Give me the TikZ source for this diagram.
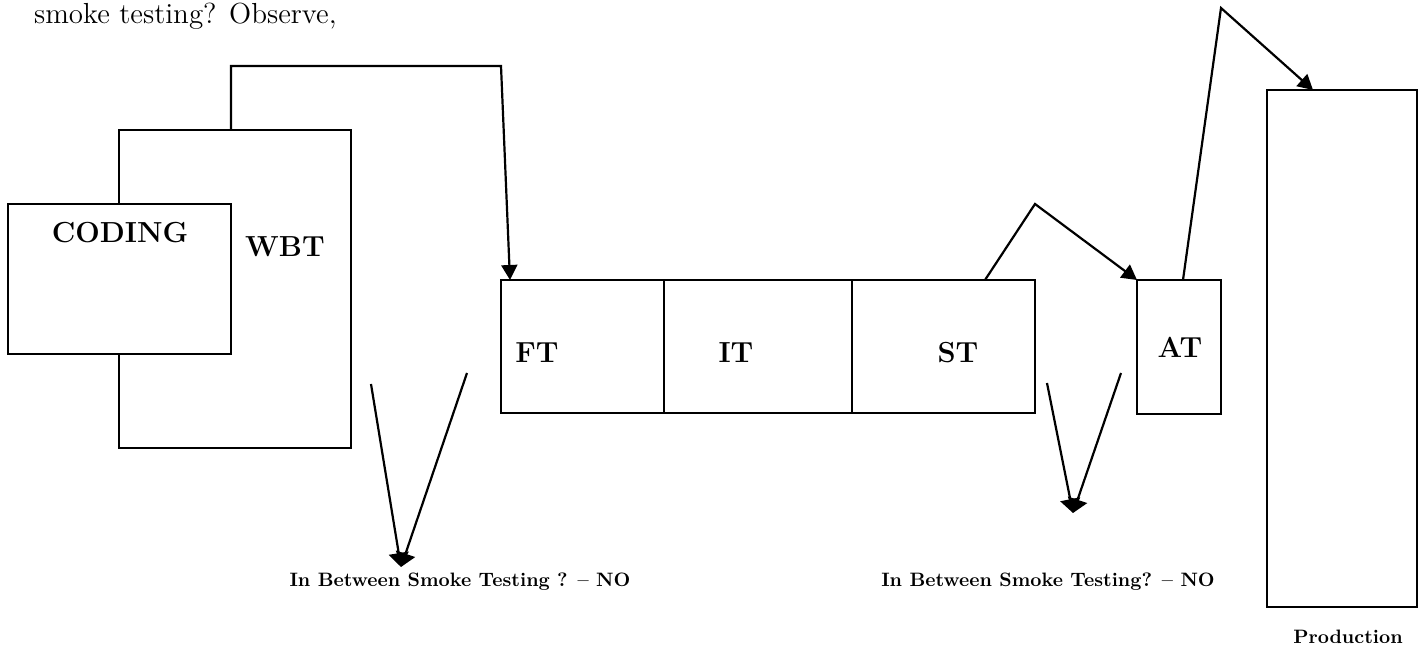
\documentclass[tikz,border=0pt]{standalone}
\usetikzlibrary{arrows.meta,calc}
\begin{document}
\begin{tikzpicture}[x=0.5pt,y=-0.5pt, line width=1.1pt,
  box/.style={draw, line width=1.1pt, inner sep=0pt, outer sep=0pt, anchor=north west},
  lbl/.style={font=\fontsize{14.5}{17}\selectfont\bfseries, inner sep=0pt},
  small/.style={font=\fontsize{9.7}{12}\selectfont\bfseries, inner sep=0pt},
  arr/.style={-{Triangle[width=8pt,length=7.5pt]}},
  varr/.style={-{Triangle[width=10pt,length=7pt]}}]
\useasboundingbox (0,0) rectangle (1421,646);

% top text
\node[anchor=base west, inner sep=0pt, font=\fontsize{14.5}{17}\selectfont] (intro) at (33,24) {smoke testing? Observe,};

% boxes
\node[box, minimum width=116pt, minimum height=159pt] (wbt) at (119,130) {};
\node[box, fill=white, minimum width=111.5pt, minimum height=75pt] (coding) at (8,204) {};
\node[box, minimum width=81.5pt, minimum height=66.5pt] (ft) at (501,280) {};
\node[box, minimum width=94pt, minimum height=66.5pt] (it) at (664,280) {};
\node[box, minimum width=91.5pt, minimum height=66.5pt] (st) at (852,280) {};
\node[box, minimum width=42pt, minimum height=67pt] (at) at (1137,280) {};
\node[box, minimum width=75pt, minimum height=258.5pt] (prod) at (1267,90) {};

% box labels
\node[lbl] (codingl) at (120,233) {CODING};
\node[lbl] (wbtl) at (285,247) {WBT};
\node[lbl] (ftl) at (537,353) {FT};
\node[lbl] (itl) at (736,353) {IT};
\node[lbl] (stl) at (958,353) {ST};
\node[lbl] (atl) at (1180,347) {AT};

% connectors
\coordinate (c2) at (501,66);
\draw[arr] ([xshift=56pt]wbt.north west) |- (c2) -- ([xshift=4.5pt]ft.north west);
\coordinate (p1) at (1035,204);
\draw[arr] ([xshift=-25pt]st.north east) -- (p1) -- (at.north west);
\coordinate (p2) at (1221,8);
\draw[arr] ([xshift=2pt]at.north) -- (p2) -- ([xshift=23pt]prod.north west);

% V arrows
\coordinate (v1a) at (371,384);
\coordinate (v1b) at (467,373);
\coordinate (t1) at (401,567);
\draw[varr] (v1a) -- (t1);
\draw[varr] (v1b) -- (t1);
\coordinate (v2a) at (1047,383);
\coordinate (v2b) at (1121,373);
\coordinate (t2) at (1073,513);
\draw[varr] (v2a) -- (t2);
\draw[varr] (v2b) -- (t2);

% labels
\node[small] (n1) at (460,582) {In Between Smoke Testing ? -- NO};
\node[small] (n2) at (1048,582) {In Between Smoke Testing? -- NO};
\node[small] (prodl) at (1348,637) {Production};
\end{tikzpicture}
\end{document}
